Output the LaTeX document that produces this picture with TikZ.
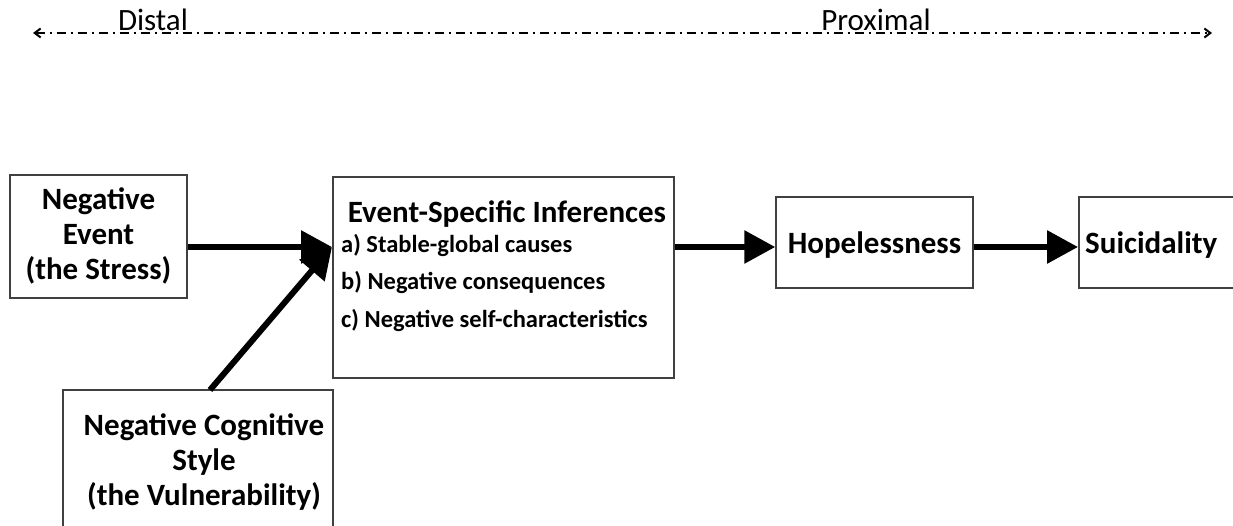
\documentclass[tikz,border=0pt]{standalone}
\usepackage{fontspec}
\setmainfont{Carlito}
\usetikzlibrary{arrows.meta}
\tikzset{
  box/.style={draw=black!75, line width=1.5pt, rectangle, inner sep=0pt},
  bigarrow/.style={line width=6pt, -{Triangle[length=31pt,width=32pt]}},
  headtext/.style={font=\bfseries\fontsize{31}{35}\selectfont, align=center, inner sep=0pt},
  itemtext/.style={font=\bfseries\fontsize{24.5}{24.5}\selectfont, anchor=west, inner sep=0pt},
  axislabel/.style={font=\fontsize{31}{31}\selectfont, inner sep=0pt, anchor=base},
  axis/.style={line width=2pt, dash pattern=on 9pt off 5pt on 2pt off 5pt, {Straight Barb[length=6pt,width=9pt]}-{Straight Barb[length=6pt,width=9pt]}}
}
\begin{document}
\begin{tikzpicture}[x=1pt,y=-1pt]
\useasboundingbox (0,0) rectangle (1233,526);
% axis
\coordinate (axL) at (33,33);
\coordinate (axR) at (1212,33);
\draw[axis] (axL) -- (axR);
\node[axislabel] (distal) at (153,31) {Distal};
\node[axislabel] (proximal) at (876,31) {Proximal};
% boxes
\node[box, minimum width=177pt, minimum height=123pt] (event) at (98.5,236.5) {};
\node[headtext] (eventtxt) at (98.5,236) {Negative\\Event\\(the Stress)};
\node[box, minimum width=270pt, minimum height=170pt] (style) at (198,475) {};
\node[headtext] (styletxt) at (204,462) {Negative Cognitive\\Style\\(the Vulnerability)};
\node[box, minimum width=341pt, minimum height=201pt] (infer) at (503.5,277.5) {};
\node[headtext, anchor=base] (infertitle) at (507,223) {Event-Specific Inferences};
\node[itemtext] (ia) at (341,245) {a) Stable-global causes};
\node[itemtext] (ib) at (341,282) {b) Negative consequences};
\node[itemtext] (ic) at (341,320) {c) Negative self-characteristics};
\node[box, minimum width=197pt, minimum height=91pt] (hope) at (874.5,242.5) {};
\node[headtext] (hopetxt) at (874.5,245) {Hopelessness};
\node[box, minimum width=170pt, minimum height=91pt, anchor=west] (suic) at (1078,242.5) {};
\node[headtext, anchor=west] (suictxt) at (1085,245) {Suicidality};
% connectors
\coordinate (tip) at (332,247);
\coordinate (stylein) at (210,390);
\draw[bigarrow] (event.east |- tip) -- (tip);
\draw[bigarrow] (stylein) -- (tip);
\draw[bigarrow] (infer.east |- tip) -- (hope.west |- tip);
\draw[bigarrow] (hope.east |- tip) -- (suic.west |- tip);
\end{tikzpicture}
\end{document}
